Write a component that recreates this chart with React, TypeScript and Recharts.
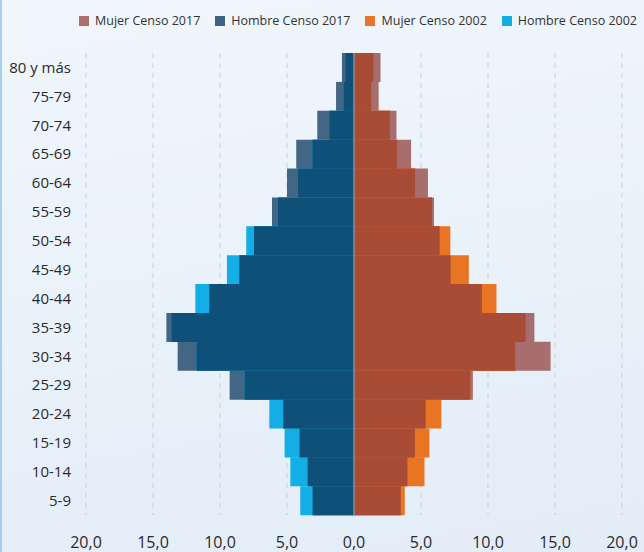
import React from "react";
import {
  BarChart,
  Bar,
  XAxis,
  YAxis,
  CartesianGrid,
  Legend,
  ReferenceLine
} from "recharts";

// grupos de edad, de arriba hacia abajo
const ageGroups = [
  "80 y más", "75-79", "70-74", "65-69", "60-64", "55-59", "50-54", "45-49",
  "40-44", "35-39", "30-34", "25-29", "20-24", "15-19", "10-14", "5-9"
];

// % de la población
const hombre2017 = [0.9, 1.34, 2.74, 4.31, 5.0, 6.12, 7.46, 8.56, 10.8, 14.0, 13.16, 9.28, 5.28, 4.06, 3.46, 3.09];
const hombre2002 = [0.65, 0.78, 1.84, 3.11, 4.18, 5.67, 8.04, 9.48, 11.84, 13.63, 11.75, 8.16, 6.32, 5.18, 4.75, 4.01];
const mujer2017 = [1.98, 1.84, 3.17, 4.26, 5.52, 5.97, 6.39, 7.21, 9.54, 13.46, 14.67, 8.87, 5.35, 4.54, 3.99, 3.49];
const mujer2002 = [1.46, 1.29, 2.68, 3.22, 4.56, 5.82, 7.19, 8.57, 10.63, 12.81, 12.04, 8.68, 6.52, 5.63, 5.26, 3.79];

const xTicks = [-20, -15, -10, -5, 0, 5, 10, 15, 20];

const legendItems = [
  { name: "Mujer Censo 2017", color: "#ab6f6f" },
  { name: "Hombre Censo 2017", color: "#3d6283" },
  { name: "Mujer Censo 2002", color: "#e8752a" },
  { name: "Hombre Censo 2002", color: "#13ade6" }
];

const data = ageGroups.map((age, i) => ({
  age,
  h17: -hombre2017[i],
  m17: mujer2017[i],
  h02: -hombre2002[i],
  m02: mujer2002[i],
  hMin: -Math.min(hombre2017[i], hombre2002[i]),
  mMin: Math.min(mujer2017[i], mujer2002[i])
}));

const font = "'Open Sans', sans-serif";

function LegendBox() {
  return (
    <div
      style={{
        display: "flex",
        justifyContent: "flex-end",
        paddingRight: 7,
        fontFamily: font,
        fontSize: 12.5,
        color: "#333"
      }}
    >
      {legendItems.map((it) => (
        <div key={it.name} style={{ display: "flex", alignItems: "center", marginLeft: 15 }}>
          <span style={{ width: 10, height: 10, background: it.color, marginRight: 6 }} />
          <span>{it.name}</span>
        </div>
      ))}
    </div>
  );
}

export default function App() {
  return (
    <div
      style={{
        position: "absolute",
        left: 0,
        top: 0,
        width: 644,
        height: 552,
        overflow: "hidden",
        background: "linear-gradient(170deg, #f0f6fc 0%, #e3edf8 100%)",
        boxShadow: "inset 2px 0 0 #a6cff3"
      }}
    >
      <BarChart
        width={644}
        height={552}
        data={data}
        layout="vertical"
        stackOffset="sign"
        barCategoryGap={0}
        margin={{ top: 53, right: 22, bottom: 0, left: 0 }}
      >
        <CartesianGrid
          yAxisId="a"
          horizontal={false}
          stroke="#cfcfcf"
          strokeDasharray="5 5"
        />
        <XAxis
          type="number"
          domain={[-20, 20]}
          ticks={xTicks}
          tickFormatter={(v) => Math.abs(v).toFixed(1).replace(".", ",")}
          axisLine={false}
          tickLine={false}
          tickSize={0}
          tickMargin={22}
          height={37}
          tick={{ fill: "#2a2a2a", fontSize: 16, fontFamily: font }}
        />
        <YAxis
          yAxisId="a"
          type="category"
          dataKey="age"
          width={86}
          axisLine={false}
          tickLine={false}
          tickSize={0}
          tickMargin={15}
          tick={{ fill: "#2a2a2a", fontSize: 15, fontFamily: font }}
        />
        <YAxis yAxisId="b" type="category" dataKey="age" hide />
        <YAxis yAxisId="c" type="category" dataKey="age" hide />
        <Legend
          verticalAlign="middle"
          wrapperStyle={{ top: 12, left: 0, width: 644 }}
          content={() => <LegendBox />}
        />
        <Bar yAxisId="a" dataKey="h17" stackId="s17" fill="#436684" isAnimationActive={false} />
        <Bar yAxisId="a" dataKey="m17" stackId="s17" fill="#a86e6e" isAnimationActive={false} />
        <Bar yAxisId="b" dataKey="h02" stackId="s02" fill="#13aee6" isAnimationActive={false} />
        <Bar yAxisId="b" dataKey="m02" stackId="s02" fill="#e87424" isAnimationActive={false} />
        <Bar yAxisId="c" dataKey="hMin" stackId="sMin" fill="#0f5079" isAnimationActive={false} />
        <Bar yAxisId="c" dataKey="mMin" stackId="sMin" fill="#a84c35" isAnimationActive={false} />
        <ReferenceLine yAxisId="a" x={0} stroke="#8c8c8c" strokeWidth={1.5} />
      </BarChart>
    </div>
  );
}
